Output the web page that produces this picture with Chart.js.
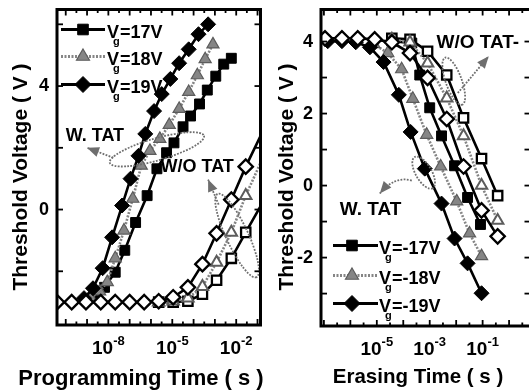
<!DOCTYPE html>
<html>
<head>
<meta charset="utf-8">
<title>Threshold voltage vs programming and erasing time</title>
<script src="https://cdn.jsdelivr.net/npm/chart.js@4.4.1/dist/chart.umd.min.js"></script>
<style>
  html, body { margin: 0; padding: 0; background: #fff; width: 529px; height: 390px; overflow: hidden; }
  canvas { position: absolute; top: 0; }
  #prog { left: 0; }
  #erase { left: 270px; }
</style>
</head>
<body>
<canvas id="prog" width="270" height="390"></canvas>
<canvas id="erase" width="270" height="390"></canvas>
<script>
// ---- programming (time in s, threshold voltage in V) ----
const progTimeWo19 = [3.9e-11, 1.9e-10, 8.9e-10, 4.4e-9, 2.1e-8, 1.0e-7, 4.8e-7, 2.3e-6, 1.1e-5, 5.4e-5, 2.6e-4, 1.2e-3, 5.9e-3, 2.8e-2, 0.66];
const progVtWo19 = [-3.0, -3.0, -3.0, -3.0, -3.0, -3.0, -3.0, -2.97, -2.84, -2.52, -1.77, -0.77, 0.32, 1.39, 3.35];
const progTimeWo = [2.3e-6, 1.1e-5, 5.4e-5, 2.6e-4, 1.2e-3, 5.9e-3, 2.8e-2, 0.66];
const progVtWo18 = [-3.0, -2.97, -2.87, -2.50, -1.71, -0.74, 0.45, 2.55];
const progVtWo17 = [-3.0, -3.0, -2.97, -2.74, -2.29, -1.58, -0.74, 0.94];

const progTime19 = [7.2e-10, 1.9e-9, 5.4e-9, 1.5e-8, 4.4e-8, 1.1e-7, 2.6e-7, 5.4e-7, 1.4e-6, 3.2e-6, 8.1e-6, 2.1e-5, 5.9e-5, 1.7e-4, 4.8e-4];
const progVt19 = [-2.87, -2.55, -1.90, -0.90, 0.13, 1.00, 1.74, 2.45, 3.19, 3.74, 4.23, 4.74, 5.19, 5.68, 6.0];
const progTime18 = [1.5e-9, 3.9e-9, 8.9e-9, 2.1e-8, 5.4e-8, 1.4e-7, 3.5e-7, 8.9e-7, 2.6e-6, 7.2e-6, 2.1e-5, 5.9e-5, 1.5e-4, 3.5e-4, 8.1e-4];
const progVt18 = [-2.87, -2.65, -2.35, -1.58, -0.68, 0.35, 1.42, 1.90, 2.29, 2.74, 3.26, 3.81, 4.35, 4.87, 5.35];
const progTime17 = [2.8e-9, 6.6e-9, 2.1e-8, 5.9e-8, 1.9e-7, 6.6e-7, 1.9e-6, 5.4e-6, 1.2e-5, 3.2e-5, 7.2e-5, 1.9e-4, 4.4e-4, 1.1e-3, 2.6e-3, 5.9e-3];
const progVt17 = [-2.87, -2.52, -2.03, -1.32, -0.42, 0.45, 1.32, 1.84, 2.16, 2.68, 3.03, 3.42, 3.87, 4.32, 4.71, 4.90];

// ---- erasing ----
const eraseTimeWo19 = [1.1e-7, 4.8e-7, 1.9e-6, 8.3e-6, 3.7e-5, 1.8e-4, 8.3e-4, 4.4e-3, 1.9e-2, 9.1e-2, 0.37];
const eraseVtWo19 = [4.09, 4.09, 4.09, 4.06, 3.98, 3.68, 2.99, 1.85, 0.53, -0.69, -1.41];
const eraseTimeWo = [3.7e-5, 1.8e-4, 8.3e-4, 4.4e-3, 1.9e-2, 9.1e-2, 0.37];
const eraseVtWo18 = [4.06, 3.98, 3.40, 2.43, 1.38, 0.0, -0.97];
const eraseVtWo17 = [4.09, 4.06, 3.73, 3.07, 1.88, 0.75, -0.28];

const eraseTime19 = [1.4e-7, 4.8e-7, 1.6e-6, 5.5e-6, 1.8e-5, 6.8e-5, 1.9e-4, 6.5e-4, 2.8e-3, 8.7e-3, 2.7e-2, 9.1e-2];
const eraseVt19 = [4.01, 4.01, 3.98, 3.84, 3.43, 2.52, 1.49, 0.47, -0.50, -1.47, -2.16, -2.99];
const eraseTime18 = [7.7e-6, 2.6e-5, 8.7e-5, 2.3e-4, 7.7e-4, 2.6e-3, 1.05e-2, 3.2e-2, 9.1e-2];
const eraseVt18 = [3.93, 3.68, 3.23, 2.41, 1.41, 0.53, -0.44, -1.33, -1.96];
const eraseTime17 = [3.7e-5, 2.1e-4, 4.2e-4, 1.0e-3, 2.8e-3, 8.7e-3, 2.7e-2, 8.3e-2];
const eraseVt17 = [4.01, 3.96, 3.07, 2.16, 1.38, 0.55, -0.33, -1.08];

const FONT = '"Liberation Sans", Arial, sans-serif';
const GRAY = '#858585';
const NOTE = '#6e6e6e';

const styles = {
  w17: { borderColor: '#000', borderWidth: 2.6, pointStyle: 'rect', pointRadius: 7, pointBackgroundColor: '#000', pointBorderColor: '#000', pointBorderWidth: 1 },
  w18: { borderColor: GRAY, borderWidth: 2.6, borderDash: [2, 1.5], pointStyle: 'triangle', pointRadius: 7, pointBackgroundColor: GRAY, pointBorderColor: '#5c5c5c', pointBorderWidth: 1.2 },
  w19: { borderColor: '#000', borderWidth: 2.6, pointStyle: 'rectRot', pointRadius: 7.5, pointBackgroundColor: '#000', pointBorderColor: '#000', pointBorderWidth: 1 },
  wo17: { borderColor: '#000', borderWidth: 2.6, pointStyle: 'rect', pointRadius: 6.6, pointBackgroundColor: '#fff', pointBorderColor: '#000', pointBorderWidth: 2.3 },
  wo18: { borderColor: GRAY, borderWidth: 2.6, borderDash: [2, 1.5], pointStyle: 'triangle', pointRadius: 6.6, pointBackgroundColor: '#fff', pointBorderColor: '#5c5c5c', pointBorderWidth: 2 },
  wo19: { borderColor: '#000', borderWidth: 2.6, pointStyle: 'rectRot', pointRadius: 7.2, pointBackgroundColor: '#fff', pointBorderColor: '#000', pointBorderWidth: 2.3 }
};

function series(times, volts, style) {
  const s = styles[style];
  return Object.assign({
    data: times.map((t, i) => ({ x: t, y: volts[i] })),
    tension: 0,
    clip: 0,
    pointHoverRadius: s.pointRadius
  }, s);
}

function seg(ctx, x1, y1, x2, y2) {
  ctx.beginPath(); ctx.moveTo(x1, y1); ctx.lineTo(x2, y2); ctx.stroke();
}

// frame, inward ticks, labels, titles, legend and the dotted notes
const decor = {
  id: 'decor',
  afterDatasetsDraw(chart, _args, o) {
    const { ctx, chartArea: a } = chart;
    const sx = chart.scales.x, sy = chart.scales.y;
    const at = (t, v) => [sx.getPixelForValue(t), sy.getPixelForValue(v)];
    ctx.save();

    // dotted loops and arrows
    ctx.strokeStyle = NOTE; ctx.fillStyle = NOTE; ctx.lineWidth = 1.8;
    o.loops.forEach(l => {
      const [cx, cy] = at(l.t, l.v);
      ctx.setLineDash([1.8, 1.4]);
      ctx.beginPath();
      ctx.ellipse(cx, cy, l.rx, l.ry, l.rot * Math.PI / 180, 0, 2 * Math.PI);
      ctx.stroke();
    });
    o.arrows.forEach(r => {
      const [x1, y1] = at(...r.from);
      const [x2, y2] = at(...r.to);
      let [cx, cy] = r.via ? at(...r.via) : [(x1 + x2) / 2, (y1 + y2) / 2];
      ctx.setLineDash([1.8, 1.4]);
      ctx.beginPath(); ctx.moveTo(x1, y1); ctx.quadraticCurveTo(cx, cy, x2, y2); ctx.stroke();
      ctx.setLineDash([]);
      const ang = Math.atan2(y2 - cy, x2 - cx), c = Math.cos(ang), s = Math.sin(ang);
      ctx.beginPath();
      ctx.moveTo(x2, y2);
      ctx.lineTo(x2 - 12 * c + 5 * s, y2 - 12 * s - 5 * c);
      ctx.lineTo(x2 - 12 * c - 5 * s, y2 - 12 * s + 5 * c);
      ctx.closePath(); ctx.fill();
    });
    ctx.setLineDash([]);

    ctx.fillStyle = '#000';
    ctx.textAlign = 'left'; ctx.textBaseline = 'alphabetic';
    o.notes.forEach(n => {
      const [px, py] = at(n.t, n.v);
      ctx.font = `bold ${n.size}px ${FONT}`;
      ctx.fillText(n.text, px, py);
    });

    // inward tick marks on all four sides
    ctx.strokeStyle = '#000'; ctx.lineWidth = 1.8;
    const lo = Math.ceil(Math.log10(sx.min) * 2) / 2, hi = Math.log10(sx.max);
    for (let e = lo; e <= hi; e += 0.5) {
      const px = sx.getPixelForValue(Math.pow(10, e));
      const len = Number.isInteger(e) ? 6 : 3.5;
      seg(ctx, px, a.bottom, px, a.bottom - len);
      seg(ctx, px, a.top, px, a.top + len);
    }
    for (let v = Math.ceil(sy.min / o.yStep) * o.yStep; v <= sy.max; v += o.yStep) {
      const py = sy.getPixelForValue(v);
      seg(ctx, a.left, py, a.left + 6, py);
      seg(ctx, a.right, py, a.right - 6, py);
    }
    ctx.lineWidth = 3;
    ctx.strokeRect(a.left, a.top, a.right - a.left, a.bottom - a.top);

    // tick labels
    ctx.font = `bold 18px ${FONT}`;
    ctx.textAlign = 'right'; ctx.textBaseline = 'middle';
    o.yLabels.forEach(v => ctx.fillText(String(v), a.left - 8, sy.getPixelForValue(v)));
    ctx.textAlign = 'left'; ctx.textBaseline = 'alphabetic';
    o.xExps.forEach(e => {
      const px = sx.getPixelForValue(Math.pow(10, e));
      const exp = String(e);
      ctx.font = `bold 19px ${FONT}`;
      const w1 = ctx.measureText('10').width;
      ctx.font = `bold 13px ${FONT}`;
      const w2 = ctx.measureText(exp).width;
      const x0 = px - (w1 + w2) / 2;
      ctx.font = `bold 19px ${FONT}`;
      ctx.fillText('10', x0, a.bottom + 29);
      ctx.font = `bold 13px ${FONT}`;
      ctx.fillText(exp, x0 + w1, a.bottom + 20);
    });

    // axis titles
    ctx.textAlign = 'center';
    ctx.font = `bold ${o.xTitle.size}px ${FONT}`;
    ctx.fillText(o.xTitle.text, o.xTitle.x, o.xTitle.y);
    ctx.save();
    ctx.translate(o.yTitle.x, o.yTitle.y);
    ctx.rotate(-Math.PI / 2);
    ctx.font = `bold ${o.yTitle.size}px ${FONT}`;
    ctx.fillText(o.yTitle.text, 0, 0);
    ctx.restore();

    // legend with V subscript g
    const L = o.legend;
    ctx.textAlign = 'left';
    L.rows.forEach(r => {
      const s = styles[r.style];
      const base = a.top + r.base, my = base - 8;
      ctx.save();
      ctx.strokeStyle = s.borderColor; ctx.lineWidth = 3;
      ctx.setLineDash(s.borderDash || []);
      seg(ctx, a.left + L.x1, my, a.left + L.x2, my);
      ctx.restore();
      ctx.fillStyle = s.pointBackgroundColor; ctx.strokeStyle = s.pointBorderColor;
      ctx.lineWidth = s.pointBorderWidth;
      Chart.helpers.drawPoint(ctx, { pointStyle: s.pointStyle, radius: s.pointRadius + 0.5, borderWidth: s.pointBorderWidth, rotation: 0 }, a.left + L.xm, my);
      ctx.fillStyle = '#000';
      const tx = a.left + L.tx;
      ctx.font = `bold ${L.size}px ${FONT}`;
      ctx.fillText('V', tx, base);
      const wV = ctx.measureText('V').width;
      ctx.font = `bold ${L.sub}px ${FONT}`;
      ctx.fillText('g', tx + wV - 6, base + 7);
      ctx.font = `bold ${L.size}px ${FONT}`;
      ctx.fillText(r.text, tx + wV + 1, base);
    });
    ctx.restore();
  }
};

function makeChart(id, datasets, xRange, yRange, padding, decorOpts) {
  return new Chart(document.getElementById(id), {
    type: 'line',
    data: { datasets },
    options: {
      responsive: false,
      animation: false,
      events: [],
      layout: { padding },
      scales: {
        x: { type: 'logarithmic', display: false, min: xRange[0], max: xRange[1] },
        y: { type: 'linear', display: false, min: yRange[0], max: yRange[1] }
      },
      plugins: { legend: { display: false }, tooltip: { enabled: false }, decor: decorOpts }
    },
    plugins: [decor]
  });
}

makeChart('prog', [
  series(progTimeWo19, progVtWo19, 'wo19'),
  series(progTimeWo, progVtWo18, 'wo18'),
  series(progTimeWo, progVtWo17, 'wo17'),
  series(progTime19, progVt19, 'w19'),
  series(progTime18, progVt18, 'w18'),
  series(progTime17, progVt17, 'w17')
], [Math.pow(10, -10.41), Math.pow(10, -0.86)], [-3.74, 6.48],
{ left: 57, right: 3, top: 8, bottom: 65 }, {
  yStep: 2, yLabels: [0, 4], xExps: [-8, -5, -2],
  xTitle: { text: 'Programming Time ( s )', x: 141, y: 385, size: 22 },
  yTitle: { text: 'Threshold Voltage ( V )', x: 27, y: 177, size: 21 },
  legend: { size: 18, sub: 11, x1: 4, x2: 48, xm: 26, tx: 50, rows: [
    { style: 'w17', text: '=17V', base: 28 },
    { style: 'w18', text: '=18V', base: 55 },
    { style: 'w19', text: '=19V', base: 83 }
  ] },
  notes: [
    { text: 'W. TAT', t: 1e-10, v: 2.23, size: 18 },
    { text: 'W/O TAT', t: 2.8e-6, v: 1.23, size: 18 }
  ],
  loops: [
    { t: 1.9e-6, v: 1.95, rx: 49, ry: 11, rot: -16 },
    { t: 0.011, v: -0.84, rx: 46, ry: 11, rot: 65 }
  ],
  arrows: [
    { from: [1.7e-8, 1.68], to: [1e-9, 2.0] },
    { from: [1.5e-3, 0.16], to: [4.8e-4, 0.97] }
  ]
});

makeChart('erase', [
  series(eraseTimeWo19, eraseVtWo19, 'wo19'),
  series(eraseTimeWo, eraseVtWo18, 'wo18'),
  series(eraseTimeWo, eraseVtWo17, 'wo17'),
  series(eraseTime19, eraseVt19, 'w19'),
  series(eraseTime18, eraseVt18, 'w18'),
  series(eraseTime17, eraseVt17, 'w17')
], [Math.pow(10, -7.11), Math.pow(10, 0.81)], [-3.9, 4.89],
{ left: 51, right: 9, top: 8, bottom: 64 }, {
  yStep: 1, yLabels: [4, 2, 0, -2], xExps: [-5, -3, -1],
  xTitle: { text: 'Erasing Time ( s )', x: 148, y: 383, size: 20.5 },
  yTitle: { text: 'Threshold Voltage ( V )', x: 23, y: 177, size: 21 },
  legend: { size: 18, sub: 11, x1: 12, x2: 57, xm: 31, tx: 58, rows: [
    { style: 'w17', text: '=-17V', base: 244 },
    { style: 'w18', text: '=-18V', base: 274 },
    { style: 'w19', text: '=-19V', base: 302 }
  ] },
  notes: [
    { text: 'W/O TAT-', t: 1.8e-3, v: 3.82, size: 19 },
    { text: 'W. TAT', t: 4e-7, v: -0.83, size: 19 }
  ],
  loops: [
    { t: 8.1e-3, v: 2.90, rx: 25, ry: 8, rot: 70 },
    { t: 5.9e-4, v: 0.36, rx: 18, ry: 8, rot: 60 }
  ],
  arrows: [
    { from: [1.15e-2, 2.57], to: [0.17, 3.59] },
    { from: [2.1e-4, 0.14], to: [1.3e-5, -0.22], via: [4.8e-5, 0.28] }
  ]
});
</script>
</body>
</html>
